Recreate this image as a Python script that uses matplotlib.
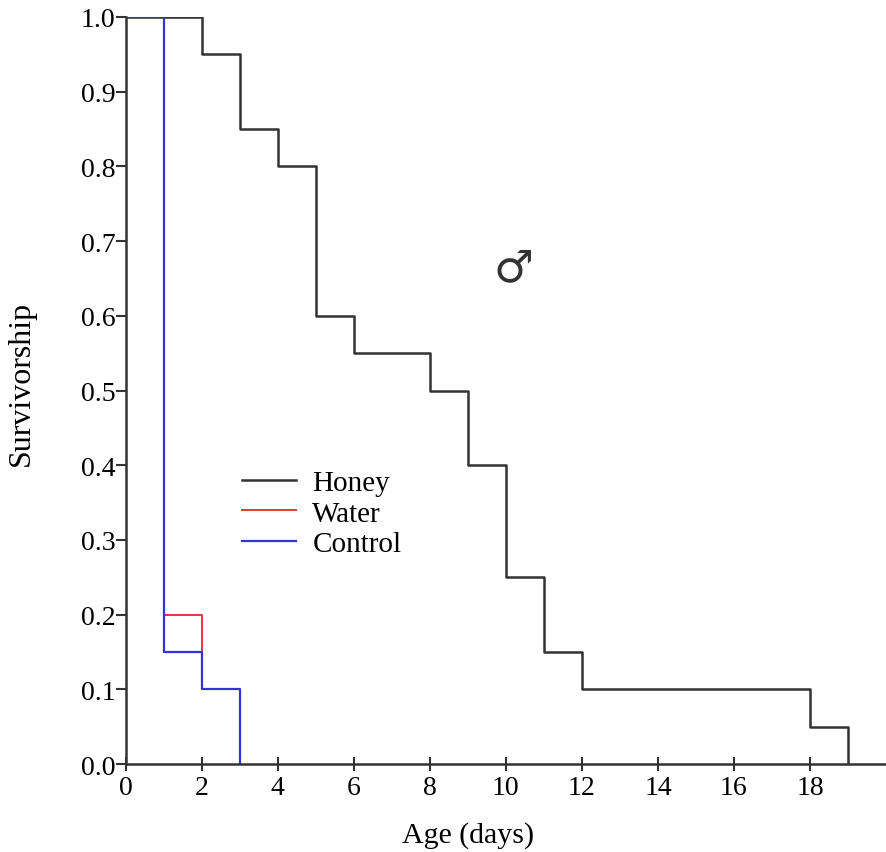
import matplotlib
matplotlib.use("Agg")
import matplotlib.pyplot as plt

# -------------------------
# DATA (step survivorship)
# -------------------------
honey_days = [0, 2, 3, 4, 5, 6, 8, 9, 10, 11, 12, 18, 19]
honey_surv = [1.0, 0.95, 0.85, 0.8, 0.6, 0.55, 0.5, 0.4, 0.25, 0.15, 0.1, 0.05, 0.0]

water_days = [0, 1, 2, 3]
water_surv = [1.0, 0.2, 0.1, 0.0]

control_days = [0, 1, 2, 3]
control_surv = [1.0, 0.15, 0.1, 0.0]

x_ticks = [0, 2, 4, 6, 8, 10, 12, 14, 16, 18]
y_ticks = [0.0, 0.1, 0.2, 0.3, 0.4, 0.5, 0.6, 0.7, 0.8, 0.9, 1.0]

# -------------------------
# PLOT
# -------------------------
plt.rcParams["font.family"] = ["Liberation Serif", "DejaVu Serif"]

fig = plt.figure(figsize=(8.86, 8.53), dpi=100)
ax = fig.add_axes([0.142, 0.103, 0.858, 0.876])

ax.step(honey_days, honey_surv, where="post", color="#333333", lw=1.8, label="Honey")
ax.step(water_days, water_surv, where="post", color="#e8343a", lw=1.4, label="Water")
ax.step(control_days, control_surv, where="post", color="#3333dd", lw=1.6, label="Control")

ax.set_xlim(0, 20)
ax.set_ylim(0, 1.0)
ax.set_xticks(x_ticks)
ax.set_yticks(y_ticks)
ax.set_yticklabels([f"{v:.1f}" for v in y_ticks])

for side in ["top", "right"]:
    ax.spines[side].set_visible(False)
for side in ["left", "bottom"]:
    ax.spines[side].set_linewidth(1.8)
    ax.spines[side].set_color("#333333")

ax.tick_params(axis="y", direction="out", length=7.5, width=1.5, color="#333333",
               labelsize=20, pad=0)
ax.tick_params(axis="x", direction="inout", length=10, width=1.5, color="#333333",
               labelsize=20, pad=2.5)

ax.set_xlabel("Age (days)", fontsize=21.5)
ax.xaxis.set_label_coords(0.45, -0.076)
ax.set_ylabel("Survivorship", fontsize=23)
ax.yaxis.set_label_coords(-0.118, 0.511)

# male symbol
ax.text(10.2, 0.665, "\u2642", fontsize=32, ha="center", va="center",
        family=["DejaVu Sans"], color="#333333")

ax.legend(loc="upper left", bbox_to_anchor=(0.138, 0.41), frameon=False,
          fontsize=21, handlelength=1.85, handletextpad=0.55, labelspacing=0.15,
          borderaxespad=0)

fig.savefig("out.png", dpi=100)
